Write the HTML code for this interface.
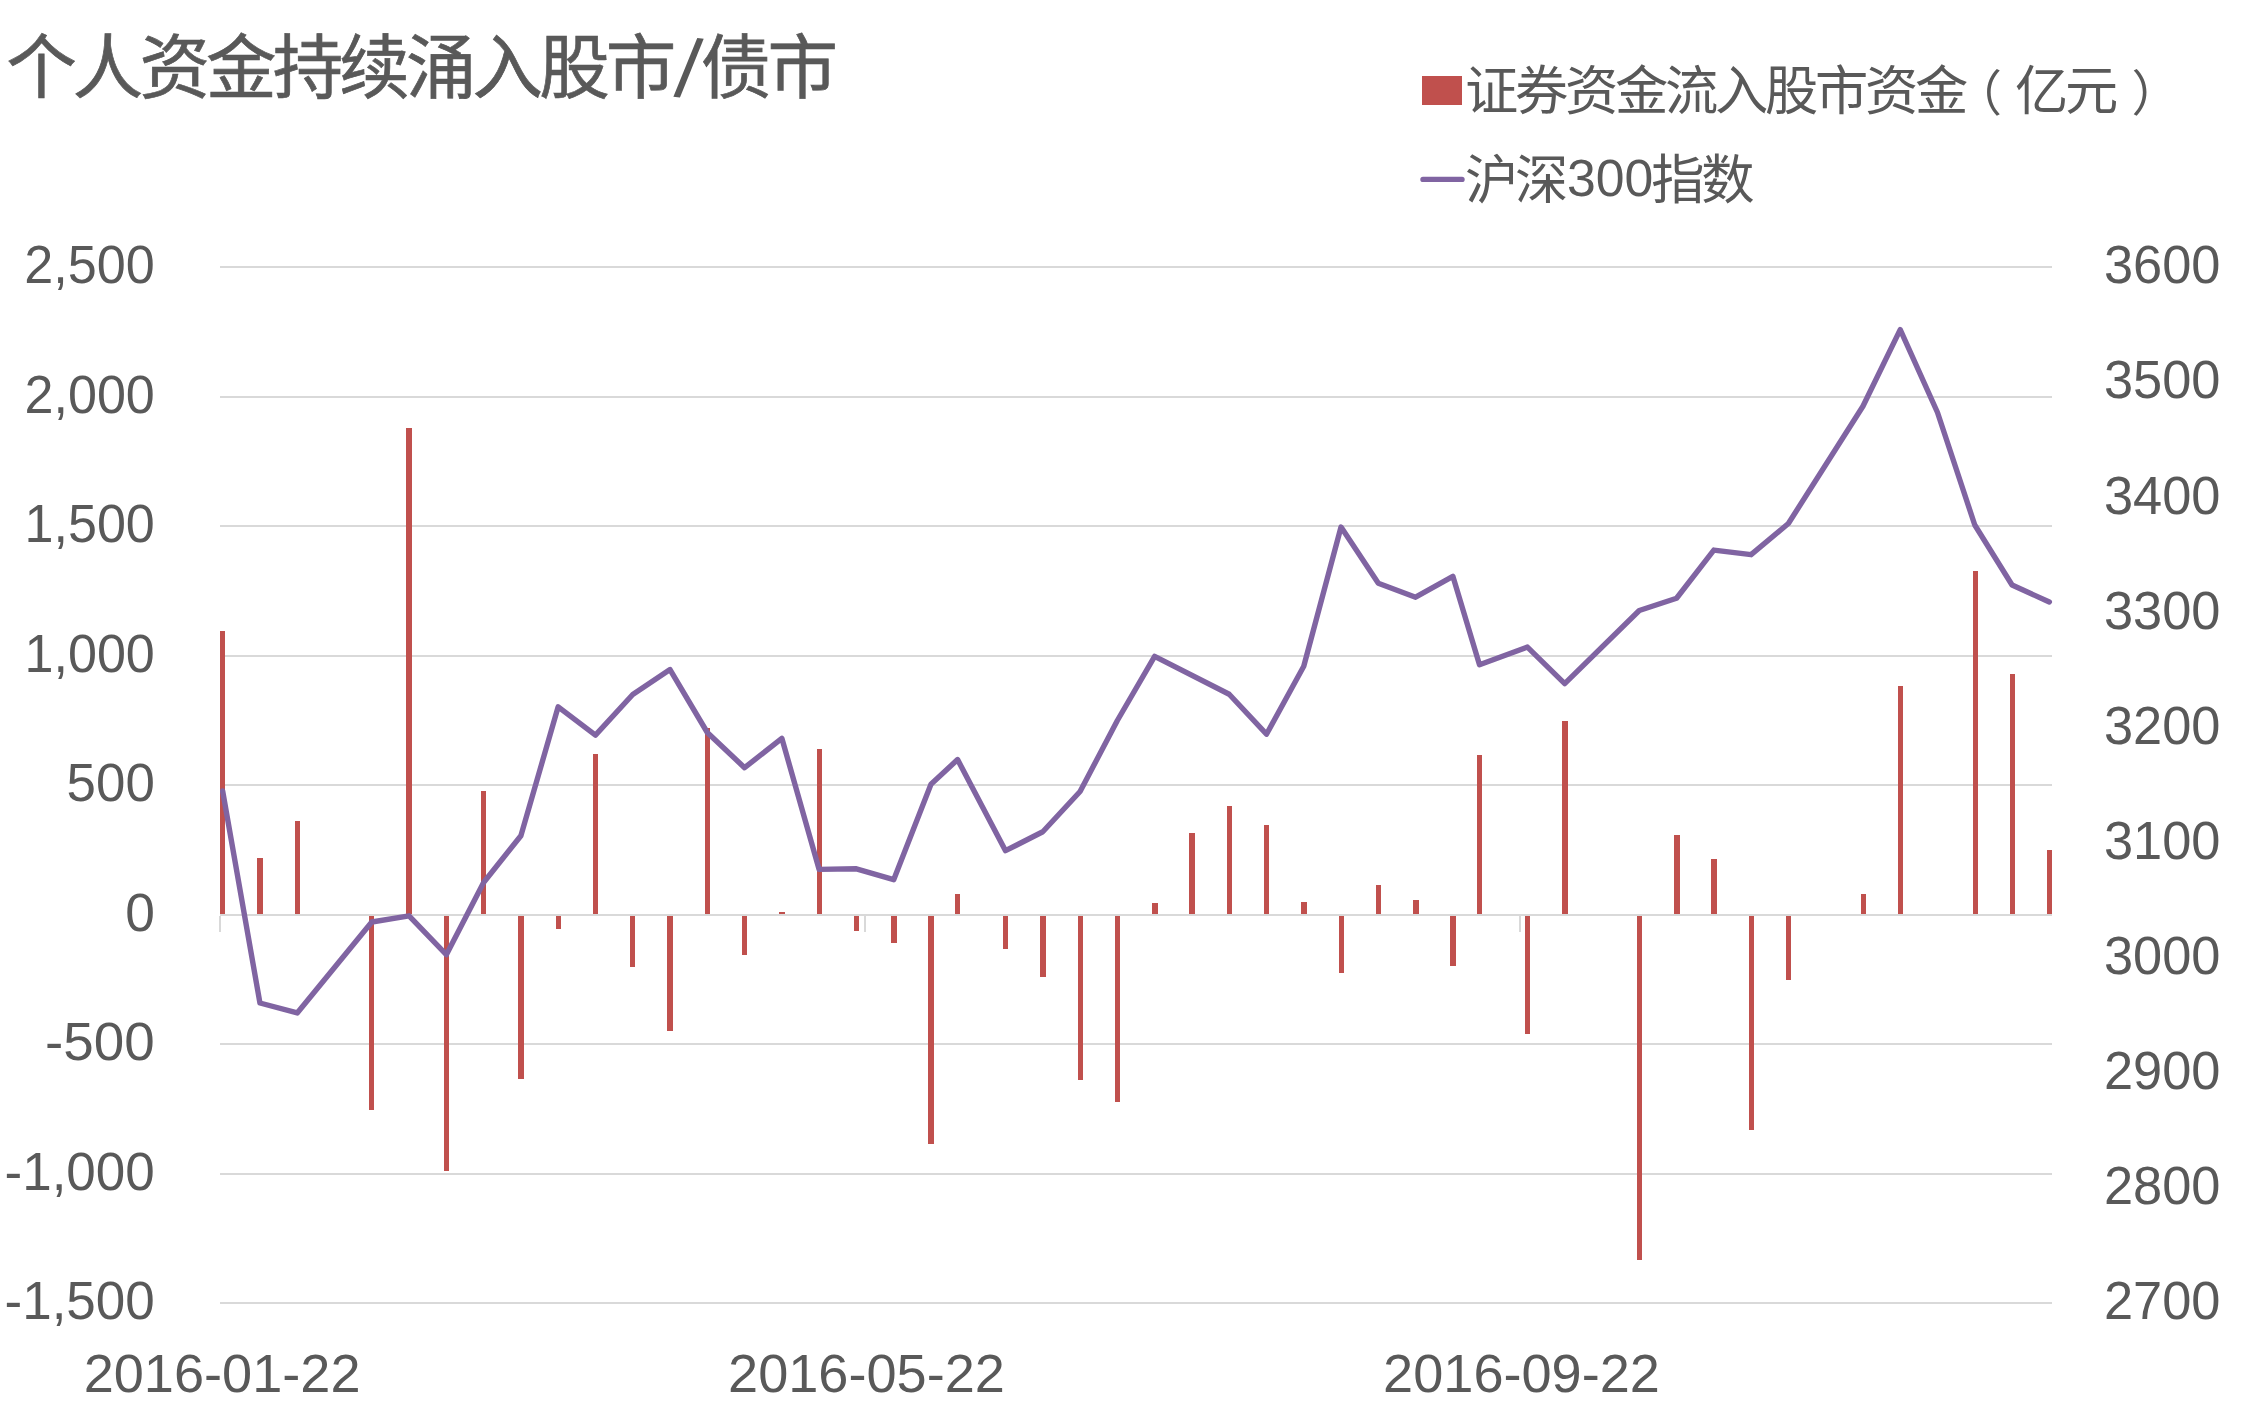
<!DOCTYPE html>
<html lang="zh-CN"><head><meta charset="utf-8"><title>个人资金持续涌入股市/债市</title>
<style>
html,body{margin:0;padding:0;background:#fff;}
body{width:2244px;height:1418px;overflow:hidden;}
svg{display:block;}
text{font-family:"Liberation Sans","Noto Sans CJK SC",sans-serif;fill:#595959;}
.ax{font-size:53.33px;}
.lg{font-size:53.3px;}
.tt{font-size:70.5px;stroke:#595959;stroke-width:0.7px;}
.sl{font-size:83.5px;stroke:none;}
.lgd{font-size:52.5px;}
.lp{font-size:49px;}
</style></head><body>
<svg width="2244" height="1418" viewBox="0 0 2244 1418">
<rect x="0" y="0" width="2244" height="1418" fill="#ffffff"/>
<g shape-rendering="crispEdges" fill="#D9D9D9">
<rect x="220" y="266" width="1832" height="2"/>
<rect x="220" y="396" width="1832" height="2"/>
<rect x="220" y="525" width="1832" height="2"/>
<rect x="220" y="655" width="1832" height="2"/>
<rect x="220" y="784" width="1832" height="2"/>
<rect x="220" y="914" width="1832" height="2"/>
<rect x="220" y="1043" width="1832" height="2"/>
<rect x="220" y="1173" width="1832" height="2"/>
<rect x="220" y="1302" width="1832" height="2"/>
<rect x="219" y="916" width="2" height="16"/>
<rect x="864" y="916" width="2" height="16"/>
<rect x="1519" y="916" width="2" height="16"/>
</g>
<g fill="#C0504D" shape-rendering="crispEdges">
<rect x="220" y="631.00" width="5" height="283.00"/>
<rect x="257" y="858.00" width="6" height="56.00"/>
<rect x="295" y="820.75" width="5" height="93.25"/>
<rect x="369" y="916.00" width="5" height="193.50"/>
<rect x="406" y="428.00" width="6" height="486.00"/>
<rect x="444" y="916.00" width="5" height="254.75"/>
<rect x="481" y="791.00" width="5" height="123.00"/>
<rect x="518" y="916.00" width="6" height="162.75"/>
<rect x="556" y="916.00" width="5" height="12.75"/>
<rect x="593" y="754.00" width="5" height="160.00"/>
<rect x="630" y="916.00" width="5" height="50.75"/>
<rect x="667" y="916.00" width="6" height="114.75"/>
<rect x="705" y="728.00" width="5" height="186.00"/>
<rect x="742" y="916.00" width="5" height="38.50"/>
<rect x="779" y="912.00" width="6" height="2.00"/>
<rect x="817" y="749.00" width="5" height="165.00"/>
<rect x="854" y="916.00" width="5" height="14.50"/>
<rect x="891" y="916.00" width="6" height="26.75"/>
<rect x="928" y="916.00" width="6" height="227.75"/>
<rect x="955" y="894.00" width="5" height="20.00"/>
<rect x="1003" y="916.00" width="5" height="32.75"/>
<rect x="1040" y="916.00" width="6" height="60.75"/>
<rect x="1078" y="916.00" width="5" height="163.50"/>
<rect x="1115" y="916.00" width="5" height="185.50"/>
<rect x="1152" y="903.00" width="6" height="11.00"/>
<rect x="1189" y="833.00" width="6" height="81.00"/>
<rect x="1227" y="806.00" width="5" height="108.00"/>
<rect x="1264" y="825.00" width="5" height="89.00"/>
<rect x="1301" y="902.00" width="6" height="12.00"/>
<rect x="1339" y="916.00" width="5" height="56.75"/>
<rect x="1376" y="885.00" width="5" height="29.00"/>
<rect x="1413" y="900.00" width="6" height="14.00"/>
<rect x="1450" y="916.00" width="6" height="49.75"/>
<rect x="1477" y="755.00" width="5" height="159.00"/>
<rect x="1525" y="916.00" width="5" height="117.75"/>
<rect x="1562" y="721.00" width="6" height="193.00"/>
<rect x="1637" y="916.00" width="5" height="343.75"/>
<rect x="1674" y="835.00" width="6" height="79.00"/>
<rect x="1711" y="859.00" width="6" height="55.00"/>
<rect x="1749" y="916.00" width="5" height="213.75"/>
<rect x="1786" y="916.00" width="5" height="63.75"/>
<rect x="1861" y="894.00" width="5" height="20.00"/>
<rect x="1898" y="686.00" width="5" height="228.00"/>
<rect x="1973" y="571.00" width="5" height="343.00"/>
<rect x="2010" y="674.00" width="5" height="240.00"/>
<rect x="2047" y="850.00" width="5" height="64.00"/>
</g>
<polyline points="222.66,791.00 259.94,1003.00 297.22,1012.94 371.78,922.00 409.06,915.81 446.34,954.69 483.62,882.50 520.90,835.75 558.17,706.81 595.45,735.19 632.73,694.50 670.01,669.56 707.29,732.50 744.57,767.69 781.85,738.31 819.13,869.39 856.41,868.81 893.69,879.69 930.97,784.25 957.59,759.56 1005.52,850.69 1042.80,831.75 1080.08,791.50 1117.36,720.50 1154.64,656.31 1229.20,694.25 1266.48,734.19 1303.76,666.25 1341.03,527.06 1378.31,583.25 1415.59,597.19 1452.87,576.31 1479.50,664.69 1527.43,647.06 1564.71,683.69 1639.27,610.50 1676.55,598.25 1713.83,550.06 1751.10,554.69 1788.38,523.50 1862.94,406.25 1900.22,329.56 1937.50,412.50 1974.78,525.00 2012.06,585.00 2049.34,602.00" fill="none" stroke="#8064A2" stroke-width="5.40" stroke-linejoin="round" stroke-linecap="round"/>
<text class="ax" x="154.8" y="283.0" text-anchor="end" textLength="130.5" lengthAdjust="spacingAndGlyphs">2,500</text>
<text class="ax" x="154.8" y="413.0" text-anchor="end" textLength="130.3" lengthAdjust="spacingAndGlyphs">2,000</text>
<text class="ax" x="154.8" y="542.0" text-anchor="end" textLength="130.3" lengthAdjust="spacingAndGlyphs">1,500</text>
<text class="ax" x="154.8" y="672.0" text-anchor="end" textLength="130.3" lengthAdjust="spacingAndGlyphs">1,000</text>
<text class="ax" x="154.8" y="801.0" text-anchor="end" textLength="88.2" lengthAdjust="spacingAndGlyphs">500</text>
<text class="ax" x="154.8" y="931.0" text-anchor="end">0</text>
<text class="ax" x="154.8" y="1060.0" text-anchor="end" textLength="109.7" lengthAdjust="spacingAndGlyphs">-500</text>
<text class="ax" x="154.8" y="1190.0" text-anchor="end" textLength="150.3" lengthAdjust="spacingAndGlyphs">-1,000</text>
<text class="ax" x="154.8" y="1319.0" text-anchor="end" textLength="150.3" lengthAdjust="spacingAndGlyphs">-1,500</text>
<text class="ax" x="2103.9" y="283.3" textLength="116.6" lengthAdjust="spacingAndGlyphs">3600</text>
<text class="ax" x="2103.9" y="398.4" textLength="116.6" lengthAdjust="spacingAndGlyphs">3500</text>
<text class="ax" x="2103.9" y="513.5" textLength="116.6" lengthAdjust="spacingAndGlyphs">3400</text>
<text class="ax" x="2103.9" y="628.6" textLength="116.6" lengthAdjust="spacingAndGlyphs">3300</text>
<text class="ax" x="2103.9" y="743.7" textLength="116.6" lengthAdjust="spacingAndGlyphs">3200</text>
<text class="ax" x="2103.9" y="858.9" textLength="116.6" lengthAdjust="spacingAndGlyphs">3100</text>
<text class="ax" x="2103.9" y="974.0" textLength="116.6" lengthAdjust="spacingAndGlyphs">3000</text>
<text class="ax" x="2103.9" y="1089.1" textLength="116.6" lengthAdjust="spacingAndGlyphs">2900</text>
<text class="ax" x="2103.9" y="1204.2" textLength="116.6" lengthAdjust="spacingAndGlyphs">2800</text>
<text class="ax" x="2103.9" y="1319.3" textLength="116.6" lengthAdjust="spacingAndGlyphs">2700</text>
<text class="ax" x="222.1" y="1392.3" text-anchor="middle" textLength="276.8" lengthAdjust="spacingAndGlyphs">2016-01-22</text>
<text class="ax" x="866.5" y="1392.3" text-anchor="middle" textLength="276.8" lengthAdjust="spacingAndGlyphs">2016-05-22</text>
<text class="ax" x="1521.5" y="1392.3" text-anchor="middle" textLength="276.8" lengthAdjust="spacingAndGlyphs">2016-09-22</text>
<text class="tt" text-anchor="middle" y="92.8"><tspan x="41.4 108.0 174.7 241.3 307.9 374.5 441.2 507.8 574.4 641.1">个人资金持续涌入股市</tspan><tspan class="sl" text-anchor="start" x="673.40" y="96.00" rotate="6.80">/</tspan><tspan x="736.1 802.8" y="92.8">债市</tspan></text>
<rect x="1422" y="76" width="40" height="29" fill="#C0504D" shape-rendering="crispEdges"/>
<text class="lg" text-anchor="middle" y="110.0"><tspan x="1491.6 1541.6 1591.6 1641.6 1691.6 1741.6 1791.6 1841.6 1891.6 1941.6">证券资金流入股市资金</tspan><tspan class="lp" x="1977.4" y="111.0">（</tspan><tspan x="2041.6 2091.6" y="110.0">亿元</tspan><tspan class="lp" x="2156.1" y="111.0">）</tspan></text>
<line x1="1423" y1="179.4" x2="1462" y2="179.4" stroke="#8064A2" stroke-width="5.40" stroke-linecap="round"/>
<text class="lg" text-anchor="middle" y="198.7"><tspan x="1491.6 1541.6">沪深</tspan><tspan class="lgd" text-anchor="start" x="1567.0" y="195.5" textLength="86.3" lengthAdjust="spacingAndGlyphs">300</tspan><tspan x="1678.0 1728.0" y="198.7">指数</tspan></text>
</svg></body></html>
